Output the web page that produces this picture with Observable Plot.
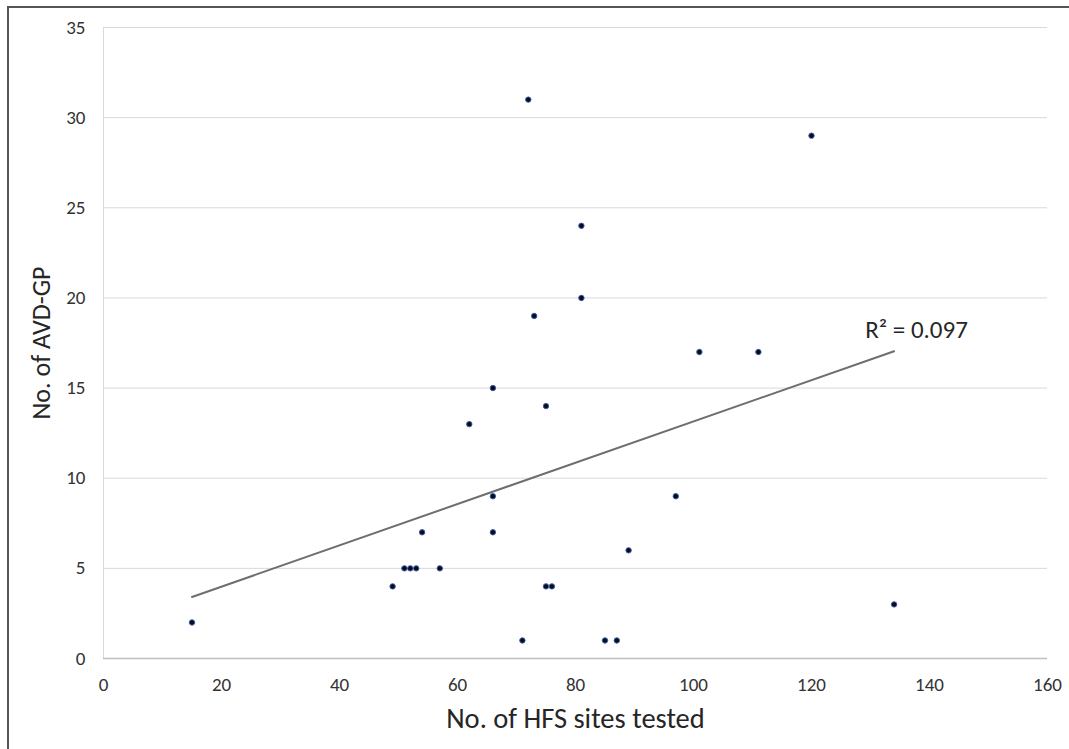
<!DOCTYPE html>
<html>
<head>
<meta charset="utf-8">
<script src="https://cdn.jsdelivr.net/npm/d3@7"></script>
<script src="https://cdn.jsdelivr.net/npm/@observablehq/plot@0.6"></script>
<style>
  html, body { margin: 0; padding: 0; background: #fff; }
  #wrap { position: relative; width: 1069px; height: 749px; overflow: hidden; }
  #frame { position: absolute; left: 7px; top: 6px; width: 1080px; height: 760px;
           border: 2px solid #555; box-sizing: border-box; pointer-events: none; }
</style>
</head>
<body>
<div id="wrap"><div id="frame"></div></div>
<script>
// HFS sites tested (x) vs AVD-GP count (y)
const hfsSites = [15, 49, 51, 52, 53, 54, 57, 62, 66, 66, 66, 71, 72, 73, 75, 75, 76, 81, 81, 85, 87, 89, 97, 101, 111, 120, 134];
const avdGp    = [ 2,  4,  5,  5,  5,  7,  5, 13, 15,  9,  7,  1, 31, 19, 14,  4,  4, 24, 20,  1,  1,  6,  9,  17,  17,  29,   3];
const xTicks = [0, 20, 40, 60, 80, 100, 120, 140, 160];
const yTicks = [0, 5, 10, 15, 20, 25, 30, 35];
const xLabel = "No. of HFS sites tested";
const yLabel = "No. of AVD-GP";
const r2Label = [{x: 137.8, y: 18.2, text: "R² = 0.097"}];

const data = hfsSites.map((x, i) => ({x, y: avdGp[i]}));
const FONT = "Calibri, Carlito, Lato, sans-serif";

const chart = Plot.plot({
  width: 1069,
  height: 749,
  marginLeft: 103,
  marginRight: 22,
  marginTop: 27,
  marginBottom: 91,
  style: {fontFamily: FONT, fontSize: "18px", color: "#333", background: "transparent"},
  x: {domain: [0, 160], axis: null},
  y: {domain: [0, 35], axis: null},
  marks: [
    Plot.gridY(yTicks.filter(d => d > 0), {stroke: "#d9d9d9", strokeOpacity: 1, strokeWidth: 1}),
    Plot.ruleX([0], {stroke: "#d9d9d9", strokeWidth: 1}),
    Plot.ruleY([0], {stroke: "#bfbfbf", strokeWidth: 1.5}),
    Plot.text(xTicks.map(String), {x: d => +d, frameAnchor: "bottom", dy: 26, text: d => d, fontSize: 18.5, fill: "#333", textAnchor: "middle", lineAnchor: "middle"}),
    Plot.text(yTicks.map(String), {y: d => +d, frameAnchor: "left", dx: -18, text: d => d, fontSize: 18.5, fill: "#333", textAnchor: "end", lineAnchor: "middle"}),
    Plot.linearRegressionY(data, {x: "x", y: "y", ci: 0, stroke: "#6e6e6e", strokeWidth: 2}),
    Plot.dot(data, {x: "x", y: "y", r: 2.7, fill: "#0b0b1f", stroke: "#3b5ea8", strokeWidth: 1}),
    Plot.text(r2Label, {x: "x", y: "y", text: "text", fontSize: 25, fill: "#262626", textAnchor: "middle"}),
    Plot.text([xLabel], {frameAnchor: "bottom", dy: 60, text: d => d, fontSize: 28.5, fill: "#262626", textAnchor: "middle", lineAnchor: "middle"}),
    Plot.text([yLabel], {frameAnchor: "left", dx: -62, rotate: -90, text: d => d, fontSize: 26, fill: "#262626", textAnchor: "middle", lineAnchor: "middle"})
  ]
});
// enforce tick-label size directly on the numeric tick texts
chart.querySelectorAll("text").forEach(t => {
  if (/^\d+$/.test(t.textContent.trim())) {
    t.style.fontSize = "19px";
    t.style.fontFamily = FONT;
  }
});
document.getElementById("wrap").insertBefore(chart, document.getElementById("frame"));
</script>
</body>
</html>
